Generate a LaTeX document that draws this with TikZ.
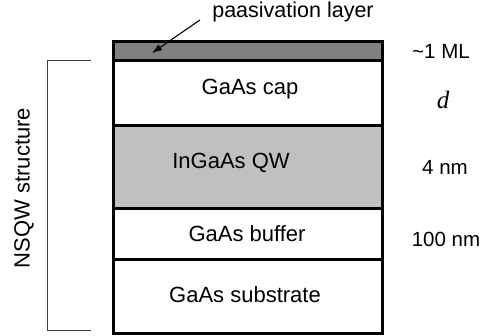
\documentclass[tikz,border=0pt]{standalone}
\usepackage{fontspec}
\setmainfont{Liberation Sans}
\newfontfamily\serifit{Liberation Serif}
\usetikzlibrary{arrows.meta}
\definecolor{passgray}{HTML}{7F7F7F}
\definecolor{qwgray}{HTML}{C0C0C0}
\definecolor{brackgray}{HTML}{404040}
\tikzset{
  layer/.style={draw=black, line width=2.6pt, rectangle, inner sep=0pt,
    minimum width=269pt, anchor=north},
  txt/.style={font=\fontsize{22}{25}\selectfont, inner sep=0pt},
  lbl/.style={font=\fontsize{20.5}{24}\selectfont, inner sep=0pt},
  pointer/.style={line width=1.1pt, -{Latex[length=10pt,width=7pt]}},
  bracket/.style={draw=brackgray, line width=0.9pt}
}
\begin{document}
\begin{tikzpicture}[x=1pt,y=-1pt]
\useasboundingbox (0,0) rectangle (482,336);
% layer stack, bottom to top
\node[layer, fill=white, minimum height=74pt] (sub) at (248,258) {};
\node[layer, fill=white, minimum height=51pt] (buf) at (248,207) {};
\node[layer, fill=qwgray, minimum height=83pt] (qw) at (248,124) {};
\node[layer, fill=white, minimum height=65pt] (cap) at (248,59) {};
\node[layer, fill=passgray, minimum height=19pt] (pas) at (248,40) {};
% layer names
\node[txt] (tcap) at (250,89) {GaAs cap};
\node[txt] (tqw) at (231,163) {InGaAs QW};
\node[txt] (tbuf) at (247,234) {GaAs buffer};
\node[txt] (tsub) at (245,295) {GaAs substrate};
% thicknesses
\node[lbl] (dpas) at (441,51) {\textasciitilde1 ML};
\node[font=\serifit\itshape\fontsize{25}{28}\selectfont, inner sep=0pt] (dcap) at (443,100) {d};
\node[lbl] (dqw) at (445,167) {4 nm};
\node[lbl] (dbuf) at (446,239) {100 nm};
% passivation callout
\node[txt, font=\fontsize{21.5}{24}\selectfont] (plab) at (293,12) {paasivation layer};
\coordinate (ptail) at (200,20);
\coordinate (phead) at (152,53);
\draw[pointer] (ptail) -- (phead);
% NSQW bracket
\coordinate (btop) at (91,60);
\coordinate (bbot) at (91,330);
\draw[bracket] (btop) -- (47,60) -- (47,330) -- (bbot);
\node[txt, rotate=90] (nsqw) at (24,188) {NSQW structure};
\end{tikzpicture}
\end{document}
